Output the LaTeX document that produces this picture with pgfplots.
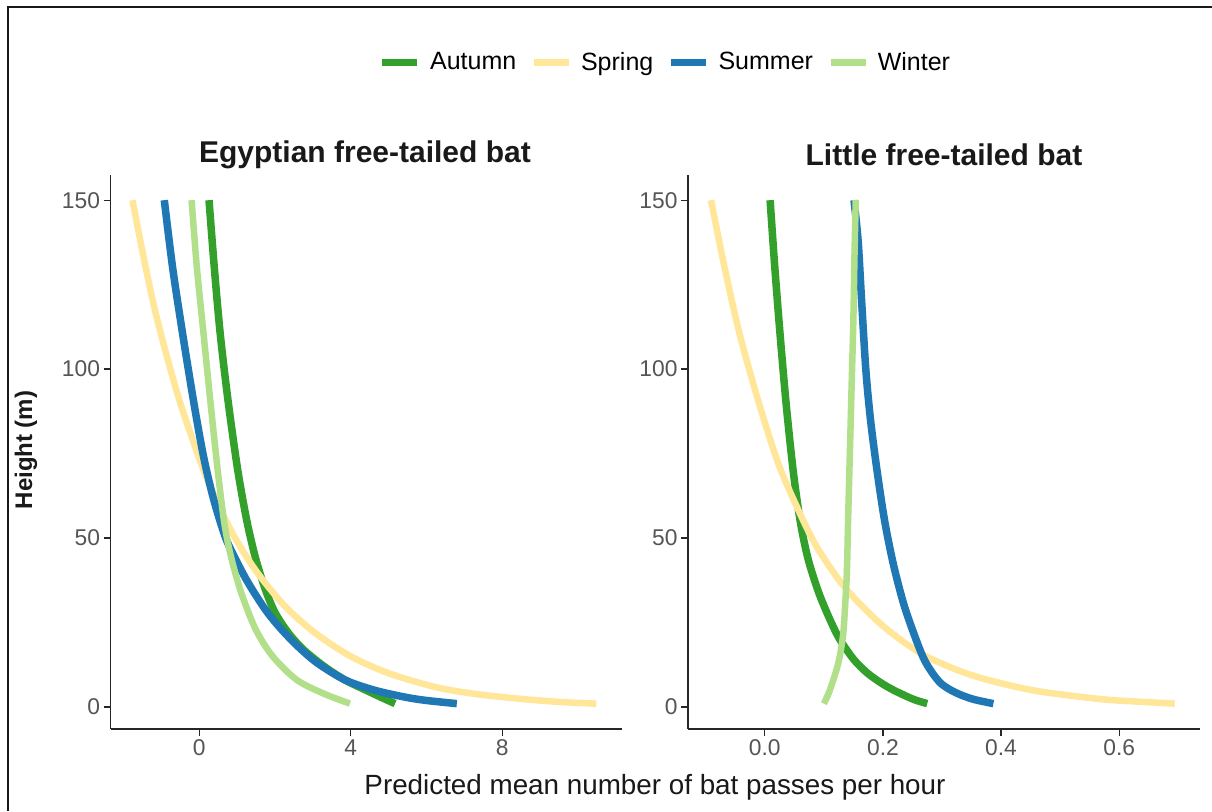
\documentclass[border=0pt]{standalone}
\usepackage{pgfplots}
\pgfplotsset{compat=1.18}
\usepackage{fontspec}
\setmainfont{Liberation Sans}
\definecolor{autumn}{HTML}{33A02C}
\definecolor{spring}{HTML}{FFE699}
\definecolor{summer}{HTML}{1F78B4}
\definecolor{winter}{HTML}{B2DF8A}
\definecolor{ticktext}{HTML}{555555}
\pgfplotsset{
  bat/.style={
    scale only axis, width=511.5pt, height=553.8pt,
    axis x line*=bottom, axis y line*=left,
    axis line style={line width=1.8pt, black!85, -},
    every tick/.style={line width=1.3pt, black!85},
    major tick length=7pt, tick align=outside,
    ymin=-6.45, ymax=157.45, ytick={0,50,100,150},
    tick label style={font=\fontsize{22.8}{26}\selectfont, text=ticktext},
    /pgf/number format/assume math mode=true,
    clip=false,
  },
  aut/.style={autumn, line width=7.5pt, smooth, tension=0.5},
  spr/.style={spring, line width=6.5pt, smooth, tension=0.5},
  sum/.style={summer, line width=7.5pt, smooth, tension=0.5},
  win/.style={winter, line width=6.5pt, smooth, tension=0.5},
}
\begin{document}
\begin{tikzpicture}[x=1pt,y=1pt]
\useasboundingbox (0,0) rectangle (1212,811);
\fill[white] (0,0) rectangle (1212,811);
\draw[line width=2.5pt, black!90] (8,0) -- (8,804) -- (1212,804);

\begin{axis}[bat, at={(110.5pt,82.2pt)}, anchor=south west,
  xmin=-2.34, xmax=11.16, xtick={0,4,8},
  legend columns=4,
  legend style={at={(1.083,1.204)}, anchor=center, draw=none, fill=none,
    font=\fontsize{25}{30}\selectfont, inner sep=0pt, nodes={inner sep=0pt},
    /tikz/every even column/.append style={column sep=14pt}},
  legend image code/.code={\draw[#1, line width=7pt, sharp plot] (0pt,0pt) -- (35pt,0pt); \path (44pt,0pt);},
]
\addplot[aut] coordinates {(0.26,150) (0.40,130) (0.56,110) (0.77,90) (1.02,70) (1.26,55) (1.49,44) (1.74,35) (2.00,28) (2.35,22) (2.75,17) (3.30,12) (3.85,8) (4.40,5) (4.78,3) (5.17,1)};
\addlegendentry{Autumn}
\addplot[spr] coordinates {(-1.76,150) (-1.50,135) (-1.22,120) (-1.00,110) (-0.76,100) (-0.50,90) (-0.20,80) (0.12,70) (0.50,60) (0.95,50) (1.52,40) (2.25,30) (3.05,22) (4.00,15) (5.00,10) (6.20,6) (7.20,4) (8.40,2.5) (9.50,1.5) (10.48,1)};
\addlegendentry{Spring}
\addplot[sum] coordinates {(-0.92,150) (-0.70,130) (-0.43,110) (-0.14,90) (0.10,75) (0.30,65) (0.47,58) (0.70,50) (0.95,44) (1.23,38) (1.50,33) (1.80,28) (2.17,23) (2.60,18) (3.12,13) (3.85,8) (4.62,5) (5.40,3) (5.95,2) (6.80,1)};
\addlegendentry{Summer}
\addplot[win] coordinates {(-0.20,150) (-0.06,130) (0.12,110) (0.30,90) (0.49,70) (0.67,54) (0.85,44) (1.12,33.5) (1.49,23) (1.94,15) (2.58,8) (3.30,3.9) (3.98,1)};
\addlegendentry{Winter}
\end{axis}

\begin{axis}[bat, at={(688pt,82.2pt)}, anchor=south west,
  xmin=-0.130, xmax=0.736, xtick={0,0.2,0.4,0.6}, xticklabels={0.0,0.2,0.4,0.6},
]
\addplot[aut] coordinates {(0.009,150) (0.017,130) (0.026,110) (0.036,90) (0.048,70) (0.060,55) (0.073,44) (0.091,34) (0.110,26) (0.127,20) (0.151,14) (0.174,10) (0.198,7) (0.218,5) (0.242,3) (0.256,2) (0.275,1)};
\addplot[spr] coordinates {(-0.091,150) (-0.068,130) (-0.042,110) (-0.010,90) (0.023,72) (0.055,59) (0.087,47.7) (0.135,35.5) (0.198,24.3) (0.263,16) (0.325,11) (0.378,8) (0.455,4.9) (0.540,2.9) (0.592,2) (0.694,1)};
\addplot[sum] coordinates {(0.151,150) (0.158,138) (0.164,120) (0.171,100) (0.179,85) (0.190,70) (0.203,55) (0.218,42) (0.236,30) (0.256,20) (0.270,14) (0.284,10) (0.298,7) (0.315,5) (0.333,3.5) (0.355,2.2) (0.387,1)};
\addplot[win] coordinates {(0.100,1) (0.108,4) (0.116,8) (0.123,12) (0.128,16) (0.133,22) (0.136,30) (0.139,40) (0.141,55) (0.144,75) (0.147,95) (0.150,115) (0.152,135) (0.154,150)};
\end{axis}

\node[font=\bfseries\fontsize{30}{36}\selectfont, text=black!90] at (365,656) {Egyptian free-tailed bat};
\node[font=\bfseries\fontsize{30}{36}\selectfont, text=black!90] at (944,656) {Little free-tailed bat};
\node[font=\bfseries\fontsize{24}{28}\selectfont, text=black!90, rotate=90] at (26,361) {Height (m)};
\node[font=\fontsize{27.8}{32}\selectfont, text=black!90] at (655,24) {Predicted mean number of bat passes per hour};
\end{tikzpicture}
\end{document}
